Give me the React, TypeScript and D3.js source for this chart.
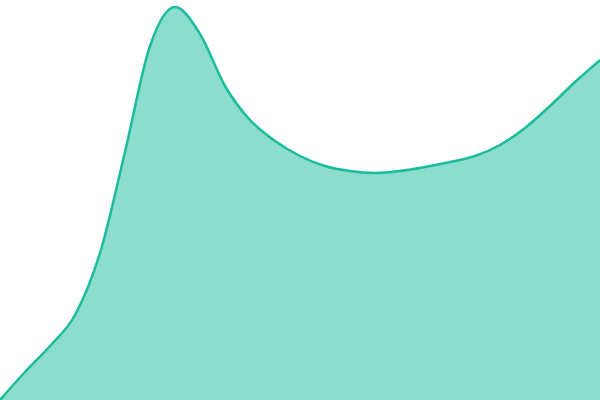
import * as d3 from 'd3';

// time index (0..120) and value in percent
const times = [0, 5, 10, 15, 20, 25, 30, 35, 40, 45, 50, 55, 60, 65, 70, 75, 80, 85, 90, 95, 100, 105, 110, 115, 120];
const values = [0, 7, 13.5, 21.25, 36.75, 62, 88.5, 98.25, 91.5, 78.5, 70, 64.75, 61, 58.5, 57.25, 56.75, 57.25, 58.25, 59.5, 61, 63.75, 68, 73.5, 79.5, 85];

const width = 600;
const height = 400;

export default function App() {
    const data = times.map((t, i) => ({ t, v: values[i] }));
    const x = d3.scaleLinear().domain([0, 120]).range([0, width]);
    const y = d3.scaleLinear().domain([0, 100]).range([height, 0]);

    const area = d3.area<{ t: number; v: number }>()
        .x((d) => x(d.t))
        .y0(height)
        .y1((d) => y(d.v))
        .curve(d3.curveMonotoneX);

    const line = d3.line<{ t: number; v: number }>()
        .x((d) => x(d.t))
        .y((d) => y(d.v))
        .curve(d3.curveMonotoneX);

    return (
        <svg
            width={width}
            height={height}
            style={{ position: 'absolute', left: 0, top: 0, display: 'block' }}
        >
            <rect width={width} height={height} fill="white" />
            <path d={area(data) || ''} fill="#1abc9c" fillOpacity={0.5} />
            <path d={line(data) || ''} fill="none" stroke="#1abc9c" strokeWidth={2.5} />
        </svg>
    );
}
